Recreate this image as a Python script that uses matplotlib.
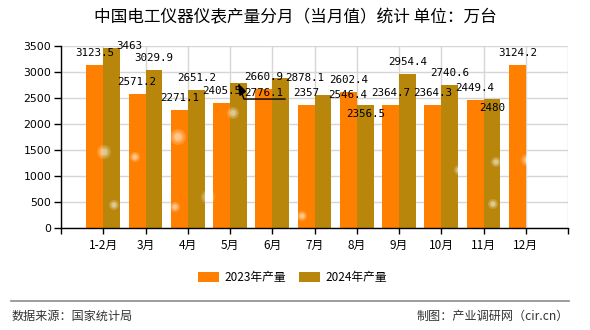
import numpy as np
import matplotlib
matplotlib.use("Agg")
import matplotlib.pyplot as plt
import matplotlib.transforms as mtransforms
from matplotlib.patches import Rectangle, Circle

plt.rcParams['font.family'] = ['Noto Sans CJK SC', 'DejaVu Sans']

# monthly output, 10k units
months = ['1-2月', '3月', '4月', '5月', '6月', '7月', '8月', '9月', '10月', '11月', '12月']
out_2023 = [3123.5, 2571.2, 2271.1, 2405.5, 2660.9, 2357, 2602.4, 2364.7, 2364.3, 2449.4, 3124.2]
out_2024 = [3463, 3029.9, 2651.2, 2776.1, 2878.1, 2546.4, 2356.5, 2954.4, 2740.6, 2480]
series_names = ['2023年产量', '2024年产量']

title = '中国电工仪器仪表产量分月（当月值）统计 单位：万台'
source_text = '数据来源：国家统计局'
maker_text = '制图：产业调研网（cir.cn）'

c23 = '#ff8000'
c24 = '#b8860b'
grid_c = '#d6d6d6'

fig = plt.figure(figsize=(5.9, 3.3), dpi=100)
ax = fig.add_axes([61 / 590, 1 - 227.7 / 330, 507 / 590, 182 / 330])

x = np.arange(1, len(months) + 1)
w = 0.4
bars23 = ax.bar(x[:len(out_2023)] - w / 2, out_2023, w, color=c23, zorder=2)
bars24 = ax.bar(x[:len(out_2024)] + w / 2, out_2024, w, color=c24, zorder=2)

ax.set_xlim(0, 12)
ax.set_ylim(0, 3500)
ax.set_yticks(np.arange(0, 3501, 500))
ax.set_xticks(np.arange(0, 13))
ax.set_xticklabels([''] + months + [''])
ax.tick_params(axis='x', length=4, width=1, labelsize=8.5, pad=4, colors='black')
ax.tick_params(axis='y', length=5, width=1, labelsize=7.8, pad=2)
for lbl in ax.get_yticklabels():
    lbl.set_family('DejaVu Sans')

ax.grid(True, color=grid_c, linewidth=1, zorder=0)
ax.set_axisbelow(True)
for s in ['top', 'right']:
    ax.spines[s].set_visible(False)
ax.spines['left'].set_linewidth(1)
ax.spines['bottom'].set_linewidth(1)

# value labels; a few are nudged where they would collide
offsets23 = {}
offsets24 = {0: (18, 2), 3: (25, -10), 4: (24, 0), 5: (25, 0), 6: (0, -9), 9: (0, -9.5)}


def put_labels(bars, vals, offs):
    for i, (b, v) in enumerate(zip(bars, vals)):
        dx, dy = offs.get(i, (0, 12))
        txt = ('%g' % v)
        ax.annotate(txt, xy=(b.get_x() + b.get_width() / 2, v),
                    xytext=(dx, dy), textcoords='offset pixels',
                    ha='center', va='center', fontsize=7.8,
                    family='DejaVu Sans Mono', color='black', zorder=5)


put_labels(bars23, out_2023, offsets23)
put_labels(bars24, out_2024, offsets24)

# leader line under the shifted May 2024 label
b = bars24[3]
anchor = mtransforms.IdentityTransform() + mtransforms.ScaledTranslation(
    b.get_x() + b.get_width() / 2, out_2024[3], ax.transData)
ax.plot([0.5, 5.5, 46.5], [-1.7, -15.7, -15.7], color='black', lw=1,
        transform=anchor, zorder=6, clip_on=False)
ax.fill([0.5, 1.5, 7], [-1.7, -12, -8], color='black', transform=anchor,
        zorder=6, clip_on=False)

# soft watermark dots
dots = [(104, 152, 7), (135, 157, 5), (178, 137, 8), (233, 113, 6), (208, 197, 7),
        (175, 207, 5), (114, 205, 5), (302, 216, 5), (459, 170, 5), (496, 162, 5),
        (493, 204, 5), (527, 160, 6)]
for px, py, r in dots:
    for k, a in [(1.0, 0.18), (0.7, 0.22), (0.45, 0.3)]:
        fig.patches.append(Circle((px, 330 - py), r * k, transform=None,
                                  facecolor='white', alpha=a, edgecolor='none',
                                  zorder=10))

fig.text(0.5, 1 - 18 / 330, title, ha='center', va='center', fontsize=12)

# legend
ly = 1 - 277 / 330
for (x0, name, col) in [(198, series_names[0], c23), (299, series_names[1], c24)]:
    fig.patches.append(Rectangle((x0 / 590, ly - 5 / 330), 21 / 590, 10 / 330,
                                 transform=fig.transFigure, facecolor=col,
                                 edgecolor='none'))
    fig.text((x0 + 26) / 590, ly, name, ha='left', va='center', fontsize=8.5)

fig.add_artist(plt.Line2D([11 / 590, 569 / 590], [1 - 301 / 330] * 2,
                          transform=fig.transFigure, color='#8c8c8c', lw=1.2))
fig.text(12 / 590, 1 - 316 / 330, source_text, ha='left', va='center',
         fontsize=8.7, color='#333333')
fig.text(569 / 590, 1 - 316 / 330, maker_text, ha='right', va='center',
         fontsize=8.7, color='#333333')

fig.savefig('out.png', dpi=100)
